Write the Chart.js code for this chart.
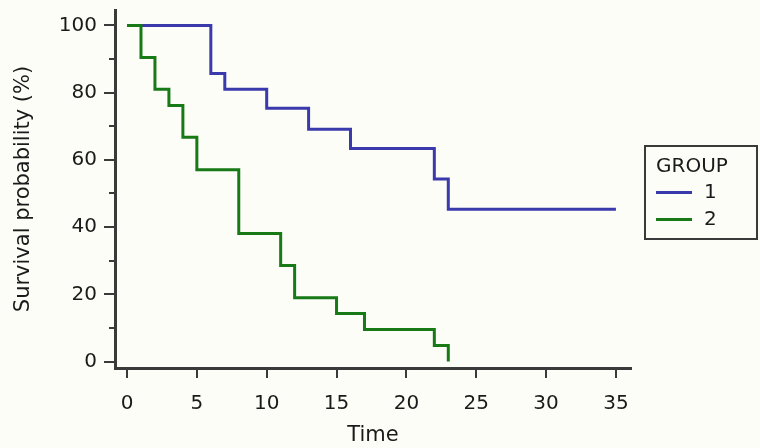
<!DOCTYPE html>
<html>
<head>
<meta charset="utf-8">
<script src="https://cdn.jsdelivr.net/npm/chart.js@4/dist/chart.umd.min.js"></script>
<style>
    html, body { margin: 0; padding: 0; background: #fdfdf8; }
    #wrap { position: relative; width: 760px; height: 448px; }
    #legend {
        position: absolute; left: 644px; top: 145px; width: 110px; height: 91px;
        border: 2px solid #3a3a3a; font-family: 'DejaVu Sans', sans-serif; font-size: 20px; color: #1a1a1a;
    }
    #legend .title { position: absolute; left: 10px; top: 6px; }
    #legend .row { position: absolute; left: 10px; height: 24px; line-height: 24px; }
    #legend .swatch { display: inline-block; width: 36px; height: 0; border-top: 3px solid; vertical-align: middle; margin-right: 12px; }
</style>
</head>
<body>
<div id="wrap">
    <canvas id="kmChart" width="760" height="448"></canvas>
    <div id="legend">
        <div class="title">GROUP</div>
        <div class="row" style="top:32px"><span class="swatch" style="border-color:#3a3aac"></span>1</div>
        <div class="row" style="top:59px"><span class="swatch" style="border-color:#177a17"></span>2</div>
    </div>
</div>
<script>
// Kaplan-Meier estimates
const group1Times = [0, 6, 7, 10, 13, 16, 22, 23, 35];
const group1Surv = [100, 85.7, 81.0, 75.4, 69.1, 63.4, 54.3, 45.3, 45.3];

const group2Times = [0, 1, 2, 3, 4, 5, 8, 11, 12, 15, 17, 22, 23];
const group2Surv = [100, 90.5, 81.0, 76.2, 66.7, 57.1, 38.1, 28.6, 19.0, 14.3, 9.5, 4.8, 0];

const xTicks = [0, 5, 10, 15, 20, 25, 30, 35];
const yTicks = [0, 20, 40, 60, 80, 100];
const yMinorTicks = [10, 30, 50, 70, 90];

const axisColor = '#3a3a3a';
const textColor = '#1a1a1a';
const font = { family: "'DejaVu Sans', sans-serif", size: 20 };
const titleFont = { family: "'DejaVu Sans', sans-serif", size: 21 };

const toPoints = (xs, ys) => xs.map((x, i) => ({ x: x, y: ys[i] }));

// short minor ticks on the y axis
const minorTicks = {
    id: 'minorTicks',
    afterDraw(chart) {
        const { ctx, scales: { y } } = chart;
        ctx.save();
        ctx.strokeStyle = axisColor;
        ctx.lineWidth = 2;
        yMinorTicks.forEach(v => {
            const py = Math.round(y.getPixelForValue(v));
            ctx.beginPath();
            ctx.moveTo(y.right - 6, py);
            ctx.lineTo(y.right, py);
            ctx.stroke();
        });
        ctx.restore();
    }
};

new Chart(document.getElementById('kmChart'), {
    type: 'line',
    data: {
        datasets: [{
            label: '2',
            data: toPoints(group2Times, group2Surv),
            borderColor: '#177a17',
            borderWidth: 3,
            stepped: true,
            pointRadius: 0,
            order: 0,
        }, {
            label: '1',
            data: toPoints(group1Times, group1Surv),
            borderColor: '#3a3aac',
            borderWidth: 3,
            stepped: true,
            pointRadius: 0,
            order: 1,
        }]
    },
    options: {
        responsive: false,
        animation: false,
        layout: { padding: { top: 10, right: 129, bottom: 0, left: 0 } },
        plugins: {
            legend: { display: false },
            tooltip: { enabled: false },
        },
        scales: {
            x: {
                type: 'linear',
                min: -0.86,
                max: 36.08,
                afterFit: (scale) => { scale.height = 80; scale.paddingLeft = 0; scale.paddingRight = 0; },
                afterBuildTicks: (scale) => { scale.ticks = xTicks.map(v => ({ value: v })); },
                border: { color: axisColor, width: 3 },
                grid: { drawOnChartArea: false, color: axisColor, tickLength: 10, lineWidth: 2 },
                ticks: { color: textColor, font: font, padding: 14, maxRotation: 0 },
                title: { display: true, text: 'Time', color: textColor, font: titleFont, padding: { top: 0, bottom: 0 } },
            },
            y: {
                min: -1.93,
                max: 104.6,
                afterFit: (scale) => { scale.width = 115; scale.paddingTop = 0; scale.paddingBottom = 0; },
                afterBuildTicks: (scale) => { scale.ticks = yTicks.map(v => ({ value: v })); },
                border: { color: axisColor, width: 3 },
                grid: { drawOnChartArea: false, color: axisColor, tickLength: 11, lineWidth: 2 },
                ticks: { color: textColor, font: font, padding: 7 },
                title: { display: true, text: 'Survival probability (%)', color: textColor, font: titleFont, padding: { top: 11, bottom: 11 } },
            }
        }
    },
    plugins: [minorTicks]
});
</script>
</body>
</html>
